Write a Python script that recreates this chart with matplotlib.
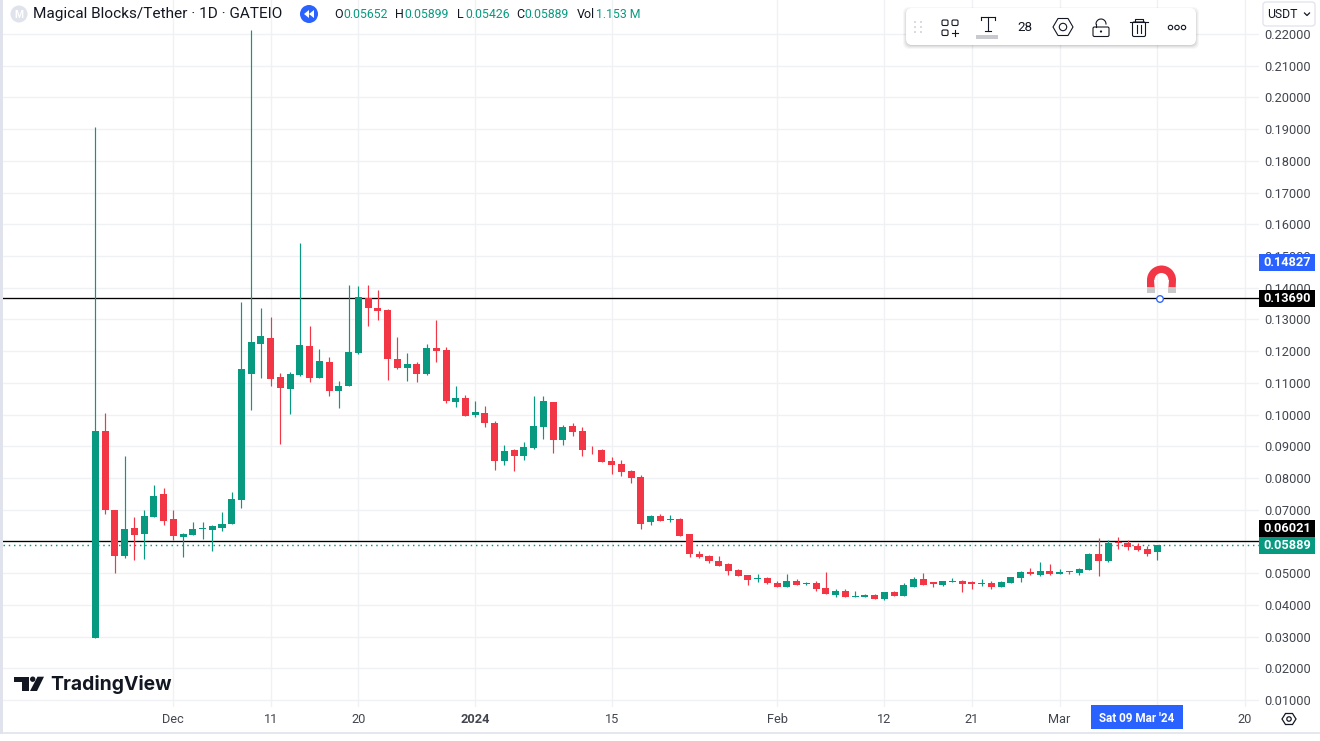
import numpy as np
import matplotlib
matplotlib.use('Agg')
import matplotlib.pyplot as plt
from matplotlib.patches import Rectangle, FancyBboxPatch, Circle, Polygon, Wedge

plt.rcParams['font.family'] = ['Roboto', 'DejaVu Sans']

GREEN = '#089981'
RED = '#F23645'
BLUE = '#2962FF'
GRID = '#f0f1f4'
DARK = '#131722'
AXIS_TXT = '#43464f'

# daily candles, first one is 23 Nov 2023
opens = [.0297,.0949,.0700,.0553,.0643,.0625,.0678,.0750,.0671,.0615,
         .0621,.0640,.0637,.0643,.0656,.0731,.1129,.1223,.1242,.1119,
         .1081,.1125,.1217,.1116,.1166,.1075,.1091,.1195,.1368,.1337,
         .1330,.1176,.1147,.1160,.1129,.1211,.1204,.1040,.1053,.0999,
         .1006,.0974,.0854,.0889,.0870,.0895,.0961,.1040,.0920,.0965,
         .0949,.0893,.0889,.0854,.0845,.0823,.0804,.0662,.0681,.0668,
         .0671,.0624,.0561,.0555,.0539,.0529,.0511,.0495,.0482,.0485,
         .0470,.0457,.0476,.0466,.0470,.0454,.0432,.0444,.0425,.0425,
         .0432,.0419,.0441,.0429,.0457,.0482,.0471,.0463,.0473,.0476,
         .0471,.0466,.0470,.0457,.0470,.0485,.0504,.0495,.0507,.0498,
         .0507,.0501,.0511,.0561,.0539,.0597,.0596,.0586,.0577,.05652]
closes = [.0949,.0698,.0553,.0640,.0619,.0681,.0744,.0665,.0618,.0624,
          .0640,.0643,.0649,.0656,.0734,.1144,.1229,.1248,.1113,.1084,
          .1129,.1220,.1116,.1170,.1075,.1091,.1198,.1371,.1337,.1327,
          .1176,.1147,.1160,.1129,.1211,.1201,.1043,.1053,.0996,.1009,
          .0974,.0854,.0886,.0870,.0898,.0965,.1043,.0920,.0961,.0946,
          .0889,.0890,.0851,.0842,.0820,.0801,.0656,.0681,.0665,.0671,
          .0618,.0561,.0552,.0539,.0523,.0507,.0492,.0479,.0485,.0470,
          .0457,.0476,.0463,.0470,.0451,.0435,.0444,.0425,.0429,.0432,
          .0419,.0441,.0429,.0463,.0482,.0463,.0467,.0476,.0476,.0466,
          .0467,.0470,.0457,.0473,.0488,.0504,.0498,.0507,.0498,.0504,
          .0504,.0514,.0561,.0539,.0596,.0594,.0583,.0574,.0561,.05889]
highs = [.1907,.1005,.0700,.0870,.0678,.0700,.0779,.0769,.0700,.0627,
         .0662,.0662,.0652,.0693,.0756,.1356,.2212,.1337,.1308,.1132,
         .1135,.1542,.1280,.1207,.1182,.1106,.1409,.1406,.1409,.1393,
         .1334,.1245,.1195,.1166,.1223,.1299,.1214,.1091,.1062,.1043,
         .1028,.0980,.0905,.0892,.0914,.1059,.1059,.1040,.0968,.0974,
         .0961,.0902,.0891,.0867,.0857,.0826,.0810,.0684,.0687,.0684,
         .0674,.0624,.0570,.0558,.0555,.0533,.0514,.0495,.0498,.0488,
         .0476,.0498,.0482,.0473,.0476,.0504,.0451,.0451,.0444,.0435,
         .0435,.0441,.0444,.0470,.0488,.0501,.0473,.0476,.0485,.0479,
         .0476,.0482,.0476,.0476,.0488,.0507,.0517,.0536,.0529,.0514,
         .0507,.0517,.0564,.0611,.0605,.0615,.0605,.0596,.0586,.05899]
lows = [.0297,.0687,.0502,.0549,.0542,.0546,.0678,.0652,.0605,.0552,
        .0621,.0608,.0570,.0633,.0656,.0706,.1015,.1116,.1091,.0908,
        .1002,.1122,.1103,.1116,.1059,.1021,.1091,.1192,.1280,.1299,
        .1110,.1144,.1106,.1103,.1125,.1166,.1037,.1025,.0996,.0993,
        .0961,.0826,.0842,.0823,.0857,.0892,.0924,.0879,.0905,.0933,
        .0870,.0876,.0851,.0813,.0807,.0785,.0640,.0652,.0665,.0662,
        .0618,.0552,.0548,.0533,.0523,.0495,.0492,.0463,.0473,.0466,
        .0457,.0457,.0463,.0463,.0444,.0435,.0425,.0425,.0425,.0425,
        .0419,.0416,.0429,.0429,.0457,.0463,.0457,.0460,.0473,.0441,
        .0451,.0460,.0451,.0457,.0470,.0473,.0495,.0492,.0495,.0498,
        .0498,.0495,.0511,.0492,.0536,.0577,.0574,.0570,.0555,.05426]

first_day = -8  # days relative to 1 Dec
price_ticks = [0.01, 0.02, 0.03, 0.04, 0.05, 0.06, 0.07, 0.08, 0.09, 0.10, 0.11,
               0.12, 0.13, 0.14, 0.15, 0.16, 0.17, 0.18, 0.19, 0.20, 0.21, 0.22]
time_ticks = [0, 10, 19, 31, 45, 62, 73, 82, 91, 101, 110]
time_labels = ['Dec', '11', '20', '2024', '15', 'Feb', '12', '21', 'Mar', '', '20']

level_a = 0.13690
level_b = 0.06021
last_price = 0.05889
cross_price = 0.14827

W, H = 1320, 741
fig = plt.figure(figsize=(W / 100, H / 100), dpi=100, facecolor='white')

# chart pane, pixel box x 3..1259, y 0..707
PX = 1 / W
PY = 1 / H
ax = fig.add_axes([3 * PX, 1 - 707 * PY, 1256 * PX, 707 * PY])
ax.set_xlim((3 - 173.3) / 9.74, (1259 - 173.3) / 9.74)
ax.set_ylim(0.01 + (700 - 707) / 3171.4, 0.01 + 700 / 3171.4)
for s in ax.spines.values():
    s.set_visible(False)
ax.yaxis.tick_right()
ax.set_yticks(price_ticks)
# 0.15 and 0.06 sit behind the price tags, so clip them with the tag boxes below
ax.set_yticklabels(['%.5f' % p for p in price_ticks])
ax.set_xticks(time_ticks)
ax.set_xticklabels(time_labels)
ax.tick_params(axis='y', length=0, pad=4, labelsize=9.2, labelcolor=AXIS_TXT)
ax.tick_params(axis='x', length=0, pad=4.5, labelsize=9.2, labelcolor=AXIS_TXT)
ax.get_xticklabels()[3].set_fontweight('bold')
ax.grid(True, color=GRID, lw=1.0)
ax.set_axisbelow(True)

# level lines under the candles
ax.axhline(level_a, color='black', lw=0.95, zorder=2)
ax.axhline(level_b, color='black', lw=0.95, zorder=2)
ax.axhline(last_price, color=GREEN, lw=1.05, ls=(0, (1, 2.6)), zorder=2)

days = np.arange(len(opens)) + first_day
opens_a = np.array(opens)
closes_a = np.array(closes)
up = closes_a >= opens_a
colors = [GREEN if u else RED for u in up]
ax.vlines(days, lows, highs, colors=colors, lw=0.85, zorder=3)
ax.bar(days, np.abs(closes_a - opens_a), bottom=np.minimum(opens_a, closes_a),
       width=0.72, color=colors, lw=0, zorder=4)

# overlay in pixel coords for the app chrome
ov = fig.add_axes([0, 0, 1, 1], facecolor='none')
ov.set_xlim(0, W)
ov.set_ylim(H, 0)
ov.axis('off')
ov.add_patch(Rectangle((0, 0), 2.5, H, color='#e0e3eb', lw=0))
ov.plot([0, W], [733, 733], color='#e0e3eb', lw=1.2)
ov.add_patch(Rectangle((0, 734), W, 7, color='white', lw=0))

# header
ov.add_patch(Circle((19, 14), 8.5, color='#e0e3eb', lw=0))
ov.text(19, 14.5, 'M', color='white', fontsize=7.5, ha='center', va='center', fontweight='bold')
ov.text(33, 14, 'Magical Blocks/Tether · 1D · GATEIO', color=DARK, fontsize=11.1, va='center')
ov.add_patch(Circle((309, 14), 9, color=BLUE, lw=0))
ov.add_patch(Polygon([(309, 10), (309, 18), (304, 14)], color='white', lw=0))
ov.add_patch(Polygon([(314, 10), (314, 18), (309, 14)], color='white', lw=0))

ohlc_x = [334, 395, 457, 516, 577]
ohlc_keys = ['O', 'H', 'L', 'C', 'Vol']
ohlc_vals = ['0.05652', '0.05899', '0.05426', '0.05889', '1.153 M']
key_w = [9, 9, 8, 8.5, 19]
for x, k, v, kw in zip(ohlc_x, ohlc_keys, ohlc_vals, key_w):
    ov.text(x, 14, k, color=DARK, fontsize=9, va='center')
    ov.text(x + kw, 14, v, color=GREEN, fontsize=8.8, va='center')

# floating toolbar
for i, a in enumerate([0.03, 0.04, 0.05, 0.06]):
    ov.add_patch(FancyBboxPatch((906 - 3 + i, 8 - 1 + i), 290 + 6 - 2 * i, 37 + 5 - 2 * i,
                                boxstyle='round,pad=0,rounding_size=6', fc='black', ec='none', alpha=a))
ov.add_patch(FancyBboxPatch((906, 8), 290, 37, boxstyle='round,pad=0,rounding_size=6', fc='white', ec='none'))
for dx in (915, 921):
    for dy in (22, 27, 32):
        ov.add_patch(Circle((dx, dy), 0.9, color='#c4c7d0', lw=0))
ic = DARK
icw = 0.8
for bx, by in [(942, 20), (952, 20), (942, 30)]:
    ov.add_patch(FancyBboxPatch((bx, by), 6, 5.5, boxstyle='round,pad=0,rounding_size=1.3', fc='none', ec=ic, lw=icw))
ov.plot([952, 957.5], [33, 33], color=ic, lw=icw)
ov.plot([954.8, 954.8], [30, 36], color=ic, lw=icw)
ov.plot([981, 995], [17, 17], color=ic, lw=icw)
ov.plot([981, 981], [17, 20], color=ic, lw=icw)
ov.plot([995, 995], [17, 20], color=ic, lw=icw)
ov.plot([988, 988], [17, 31], color=ic, lw=icw)
ov.plot([985, 991], [31, 31], color=ic, lw=icw)
ov.add_patch(Rectangle((976, 35), 22, 3.5, color='#c8cad0', lw=0))
ov.text(1025, 27.5, '28', color=DARK, fontsize=9.6, ha='center', va='center')
ov.add_patch(Polygon([(1053, 27), (1058, 18.5), (1068, 18.5), (1073, 27), (1068, 35.5), (1058, 35.5)],
                     fc='none', ec=ic, lw=icw))
ov.add_patch(Circle((1063, 27), 3.7, fc='none', ec=ic, lw=icw))
ov.add_patch(FancyBboxPatch((1093, 27), 16, 9.5, boxstyle='round,pad=0,rounding_size=1.5', fc='none', ec=ic, lw=icw))
t = np.linspace(np.pi, 2 * np.pi, 20)
ov.plot(1101 + 5 * np.cos(t), 24 + 5 * np.sin(t), color=ic, lw=icw)
ov.plot([1096, 1096], [24, 27], color=ic, lw=icw)
ov.add_patch(Circle((1101, 31.5), 1.1, color=ic, lw=0))
ov.plot([1130, 1148], [21.5, 21.5], color=ic, lw=icw)
ov.plot([1135, 1135, 1143, 1143], [21, 19, 19, 21], color=ic, lw=icw)
ov.add_patch(FancyBboxPatch((1132.5, 22), 13, 14.5, boxstyle='round,pad=0,rounding_size=1.5', fc='none', ec=ic, lw=icw))
ov.plot([1137, 1137], [25, 33], color=ic, lw=icw)
ov.plot([1141, 1141], [25, 33], color=ic, lw=icw)
for cx in (1170.5, 1177, 1183.5):
    ov.add_patch(Circle((cx, 27.5), 2.2, fc='none', ec=ic, lw=icw))

# currency button
ov.add_patch(Rectangle((1260, 0), 60, 28, color='white', lw=0))
ov.add_patch(FancyBboxPatch((1263, 2), 52, 24, boxstyle='round,pad=0,rounding_size=3', fc='white', ec='#e0e3eb', lw=0.9))
ov.text(1267, 14, 'USDT', color=DARK, fontsize=8.8, va='center')
ov.plot([1304.5, 1307, 1309.5], [13, 15.5, 13], color=DARK, lw=0.9)

# price tags
for y0, y1, c, txt in [(254, 271, BLUE, '%.5f' % cross_price),
                       (290, 307, 'black', '%.5f' % level_a),
                       (520, 537, 'black', '%.5f' % level_b),
                       (537, 553.5, GREEN, '%.5f' % last_price)]:
    ov.add_patch(Rectangle((1259, y0), 56, y1 - y0, color=c, lw=0))
    ov.text(1287, (y0 + y1) / 2, txt, color='white', fontsize=9.2, ha='center', va='center', fontweight='bold')

# magnet and anchor
ov.add_patch(Wedge((1161.5, 280), 14.5, 180, 360, width=7.5, color=RED, lw=0))
ov.add_patch(Polygon([(1147, 280), (1154, 280), (1155, 293), (1147, 293)], color=RED, lw=0))
ov.add_patch(Polygon([(1169, 280), (1176, 280), (1175.5, 293), (1168, 293)], color=RED, lw=0))
ov.add_patch(Rectangle((1147, 287), 8, 6, color='#c8c8c8', lw=0))
ov.add_patch(Rectangle((1168, 287), 7.5, 6, color='#c8c8c8', lw=0))
ov.add_patch(Circle((1160, 299), 3.3, fc='white', ec=BLUE, lw=0.95))

# crosshair date tag
ov.add_patch(Rectangle((1091, 705), 92, 24, color=BLUE, lw=0))
ov.text(1137, 719, "Sat 09 Mar '24", color='white', fontsize=8.4, ha='center', va='center', fontweight='bold')

# gear
ov.add_patch(Polygon([(1282, 719), (1285.5, 713.5), (1292.5, 713.5), (1296, 719), (1292.5, 724.5), (1285.5, 724.5)],
                     fc='none', ec=DARK, lw=0.9))
ov.add_patch(Circle((1289, 719), 2.2, fc='none', ec=DARK, lw=0.9))

# TradingView logo
ov.add_patch(Polygon([(14, 676.7), (29.3, 676.7), (29.3, 691), (22, 691), (22, 682), (14, 682)], color=DARK, lw=0))
ov.add_patch(Circle((32.7, 679.2), 2.7, color=DARK, lw=0))
ov.add_patch(Polygon([(37.5, 676.7), (44, 676.7), (37, 691), (30, 691)], color=DARK, lw=0))
ov.text(50, 684, 'TradingView', color=DARK, fontsize=13.9, va='center', family=['Inter', 'DejaVu Sans'], fontweight='bold')

fig.savefig('out.png', dpi=100)
